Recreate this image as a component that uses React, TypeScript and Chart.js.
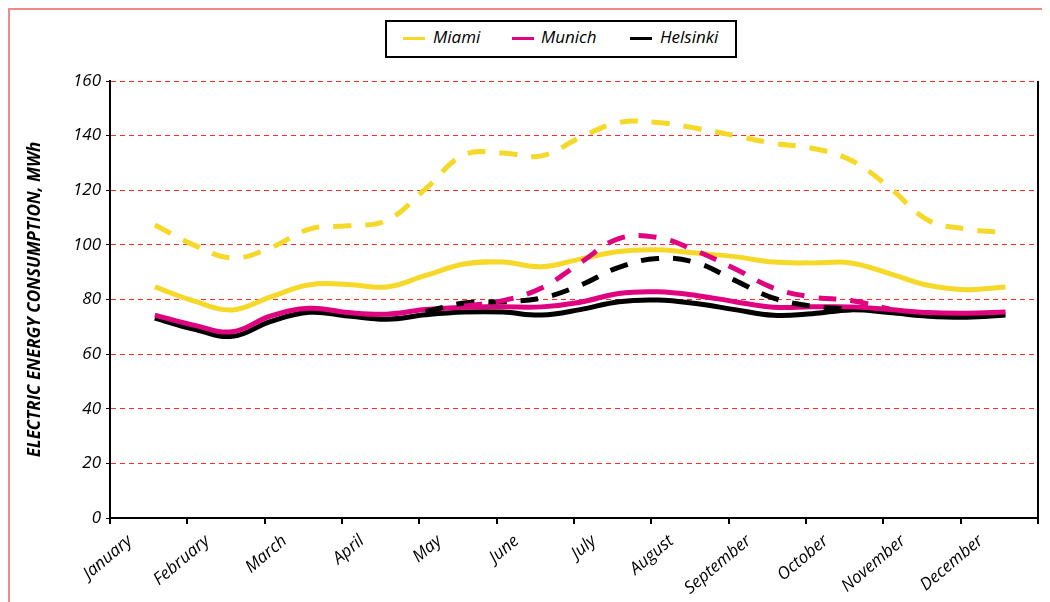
import React, { useEffect, useRef } from "react";
import { Chart, registerables } from "chart.js";

Chart.register(...registerables);

const months = [
  "January", "February", "March", "April", "May", "June",
  "July", "August", "September", "October", "November", "December",
];

// sample positions, in months from the start of January
const samplePositions = [
  0.58, 1.08, 1.58, 2.08, 2.58, 3.08, 3.58, 4.08, 4.58, 5.08, 5.58, 6.08,
  6.58, 7.08, 7.58, 8.08, 8.58, 9.08, 9.58, 10.08, 10.58, 11.08, 11.58,
];

const miamiSolid = [84.6, 79.5, 76.2, 81, 85.4, 85.5, 84.6, 88.8, 93, 93.7, 92, 94.8, 97.6, 98.2, 97, 95.7, 93.7, 93.4, 93.4, 89.5, 85.2, 83.6, 84.6];
const munichSolid = [74.3, 70.6, 68.2, 74, 76.8, 75.2, 74.6, 76.3, 77.2, 77.3, 77.3, 79, 82.2, 82.8, 81.5, 79.2, 77.2, 77.3, 77.3, 76.3, 75.2, 75, 75.4];
const helsinkiSolid = [73.2, 69.2, 66.5, 72, 75.3, 74, 72.8, 74.4, 75.4, 75.4, 74.3, 76.3, 79.2, 79.8, 78.5, 76.3, 74.2, 74.8, 76.2, 75.2, 73.9, 73.5, 74.3];

const miamiDashed = [107.3, 100, 95.2, 99, 105.8, 107, 109, 120.5, 133, 133.6, 132.6, 139.3, 144.8, 144.8, 142.7, 140, 137.2, 135.4, 131, 121, 109, 105.8, 104.5];
const munichDashed = [null, null, null, null, null, null, null, null, 77.6, 79.6, 84.2, 93.4, 102.3, 102.7, 97.8, 91.3, 84.2, 80.9, 79.6, 76.5, null, null, null];
const helsinkiDashed = [null, null, null, null, null, null, null, 75.5, 78.7, 79.2, 80.5, 85.2, 91.8, 95, 93.5, 87, 80.5, 77.6, 76.5, null, null, null, null];

const yMin = 0;
const yMax = 160;
const yStep = 20;

const YELLOW = "#F6D829";
const PINK = "#E0037F";
const BLACK = "#000000";
const FONT = "'Open Sans', 'Noto Sans', sans-serif";

const toPoints = (values: (number | null)[]) =>
  samplePositions.map((x, i) => ({ x, y: values[i] }));

const rightFrame = {
  id: "rightFrame",
  beforeDatasetsDraw(chart: any) {
    const { ctx, chartArea } = chart;
    ctx.save();
    ctx.strokeStyle = "#000";
    ctx.lineWidth = 2;
    ctx.beginPath();
    ctx.moveTo(chartArea.right, chartArea.top);
    ctx.lineTo(chartArea.right, chartArea.bottom + 1);
    ctx.stroke();
    ctx.restore();
  },
};

export default function App() {
  const canvasRef = useRef<HTMLCanvasElement | null>(null);

  useEffect(() => {
    document.documentElement.style.overflow = "hidden";
    const canvas = canvasRef.current;
    if (!canvas) return;

    const line = (label: string, values: (number | null)[], color: string, dashed: boolean, order: number) => ({
      label,
      data: toPoints(values),
      borderColor: color,
      backgroundColor: color,
      borderWidth: 5,
      borderDash: dashed ? [18, 14] : [],
      borderCapStyle: "butt" as const,
      borderJoinStyle: "round" as const,
      pointRadius: 0,
      pointHoverRadius: 0,
      tension: 0.4,
      spanGaps: false,
      fill: false,
      order,
    });

    const chart = new Chart(canvas, {
      type: "line",
      data: {
        datasets: [
          line("Miami", miamiSolid, YELLOW, false, 4),
          line("Munich", munichSolid, PINK, false, 5),
          line("Helsinki", helsinkiSolid, BLACK, false, 6),
          line("Miami (dashed)", miamiDashed, YELLOW, true, 3),
          line("Munich (dashed)", munichDashed, PINK, true, 1),
          line("Helsinki (dashed)", helsinkiDashed, BLACK, true, 2),
        ],
      },
      options: {
        responsive: false,
        animation: false,
        devicePixelRatio: 1,
        layout: { padding: { top: 71, right: 6, bottom: 0, left: 0 } },
        plugins: {
          legend: { display: false },
          tooltip: { enabled: false },
        },
        scales: {
          x: {
            type: "linear",
            min: 0,
            max: 12,
            ticks: {
              stepSize: 1,
              autoSkip: false,
              minRotation: 40,
              maxRotation: 40,
              labelOffset: 20,
              padding: 7,
              color: "#000",
              font: { family: FONT, size: 17, style: "italic" },
              callback: (v: any) => months[Number(v)] ?? "",
            },
            grid: {
              display: true,
              drawOnChartArea: false,
              drawTicks: true,
              tickLength: 6,
              color: "#000",
              lineWidth: 2,
            },
            border: { display: true, color: "#000", width: 2 },
            afterFit: (s: any) => {
              s.height = 92;
              s.paddingLeft = 0;
              s.paddingRight = 0;
            },
          },
          y: {
            min: yMin,
            max: yMax,
            ticks: {
              stepSize: yStep,
              padding: 5,
              color: "#000",
              font: { family: FONT, size: 17, style: "italic" },
            },
            grid: {
              color: (c: any) => (c.tick && c.tick.value === 0 ? "rgba(0,0,0,0)" : "#FF2A2A"),
              lineWidth: 1,
              tickColor: "#000",
              tickLength: 4,
              tickWidth: 1,
            },
            border: { display: true, color: "#000", width: 2, dash: [5, 4] },
            title: {
              display: true,
              text: "ELECTRIC ENERGY CONSUMPTION, MWh",
              color: "#000",
              font: { family: FONT, size: 17, weight: "bold", style: "italic" },
              padding: { top: 15, bottom: 0 },
            },
            afterFit: (s: any) => {
              s.width = 100;
            },
          },
        },
      },
      plugins: [rightFrame],
    });

    return () => {
      chart.destroy();
    };
  }, []);

  const legendItems = [
    { label: "Miami", color: YELLOW, sample: 16, text: 46 },
    { label: "Munich", color: PINK, sample: 125, text: 154 },
    { label: "Helsinki", color: BLACK, sample: 243, text: 273 },
  ];

  return (
    <div
      style={{
        position: "relative",
        width: 1034,
        height: 600,
        border: "2px solid #EE8A8A",
        background: "#fff",
      }}
    >
      <canvas ref={canvasRef} width={1034} height={600} style={{ display: "block" }} />
      <div
        style={{
          position: "absolute",
          left: 375,
          top: 10,
          width: 352,
          height: 38,
          boxSizing: "border-box",
          border: "2px solid #000",
          background: "#fff",
          fontFamily: FONT,
          fontStyle: "italic",
          fontSize: 17,
          lineHeight: "20px",
          color: "#000",
        }}
      >
        {legendItems.map((it) => (
          <React.Fragment key={it.label}>
            <span
              style={{
                position: "absolute",
                left: it.sample,
                top: 15,
                width: 22,
                height: 3,
                background: it.color,
              }}
            />
            <span style={{ position: "absolute", left: it.text, top: 5, whiteSpace: "nowrap" }}>
              {it.label}
            </span>
          </React.Fragment>
        ))}
      </div>
    </div>
  );
}
